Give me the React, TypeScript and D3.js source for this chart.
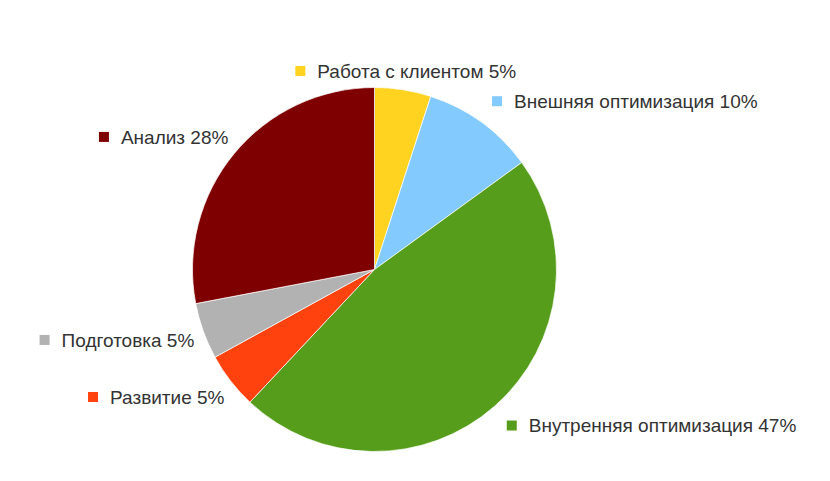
import React from "react";
import * as d3 from "d3";

const categories = [
  "Работа с клиентом",
  "Внешняя оптимизация",
  "Внутренняя оптимизация",
  "Развитие",
  "Подготовка",
  "Анализ",
];
const values = [5, 10, 47, 5, 5, 28];
const colors = ["#ffd320", "#83caff", "#579d1c", "#ff420e", "#b2b2b2", "#7f0000"];

const W = 830;
const H = 481;
const CX = 374.5;
const CY = 269.5;
const R = 182;
const FONT = 19;
const SQ = 10;
const GAP = 12;

function textWidth(s: string): number {
  if (typeof document === "undefined") return s.length * FONT * 0.55;
  const c = document.createElement("canvas").getContext("2d")!;
  c.font = `${FONT}px "Liberation Sans", Arial, sans-serif`;
  return c.measureText(s).width;
}

export default function App() {
  const total = d3.sum(values);
  const pie = d3.pie<number>().sort(null).value((d) => d)(values);
  const arc = d3.arc<d3.PieArcDatum<number>>().innerRadius(0).outerRadius(R);

  const labels = pie.map((p, i) => {
    const text = `${categories[i]} ${Math.round((values[i] / total) * 100)}%`;
    const mid = (p.startAngle + p.endAngle) / 2;
    const s = Math.sin(mid);
    const c = -Math.cos(mid);
    const lr = R + 18;
    const px = CX + lr * s;
    const py = CY + lr * c;
    const tw = textWidth(text);
    const bw = SQ + GAP + tw;
    let x0: number;
    if (Math.abs(s) < 0.35) x0 = px - bw / 2;
    else if (s > 0) x0 = px;
    else x0 = px + 8 - bw;
    const yc = py + (Math.abs(s) < 0.35 ? -1 : c * 8);
    return { text, x0, yc, color: colors[i] };
  });

  return (
    <svg width={W} height={H} style={{ display: "block", position: "absolute", left: 0, top: 0 }}>
      <rect width={W} height={H} fill="#ffffff" />
      <g transform={`translate(${CX},${CY})`}>
        {pie.map((p, i) => (
          <path key={i} d={arc(p) || ""} fill={colors[i]} stroke="#ffffff" strokeWidth={0.7} />
        ))}
      </g>
      {labels.map((l, i) => (
        <g key={i}>
          <rect x={l.x0} y={l.yc - SQ / 2} width={SQ} height={SQ} fill={l.color} />
          <text
            x={l.x0 + SQ + GAP}
            y={l.yc}
            dy="0.36em"
            fontFamily='"Liberation Sans", Arial, sans-serif'
            fontSize={FONT}
            fill="#333333"
          >
            {l.text}
          </text>
        </g>
      ))}
    </svg>
  );
}
